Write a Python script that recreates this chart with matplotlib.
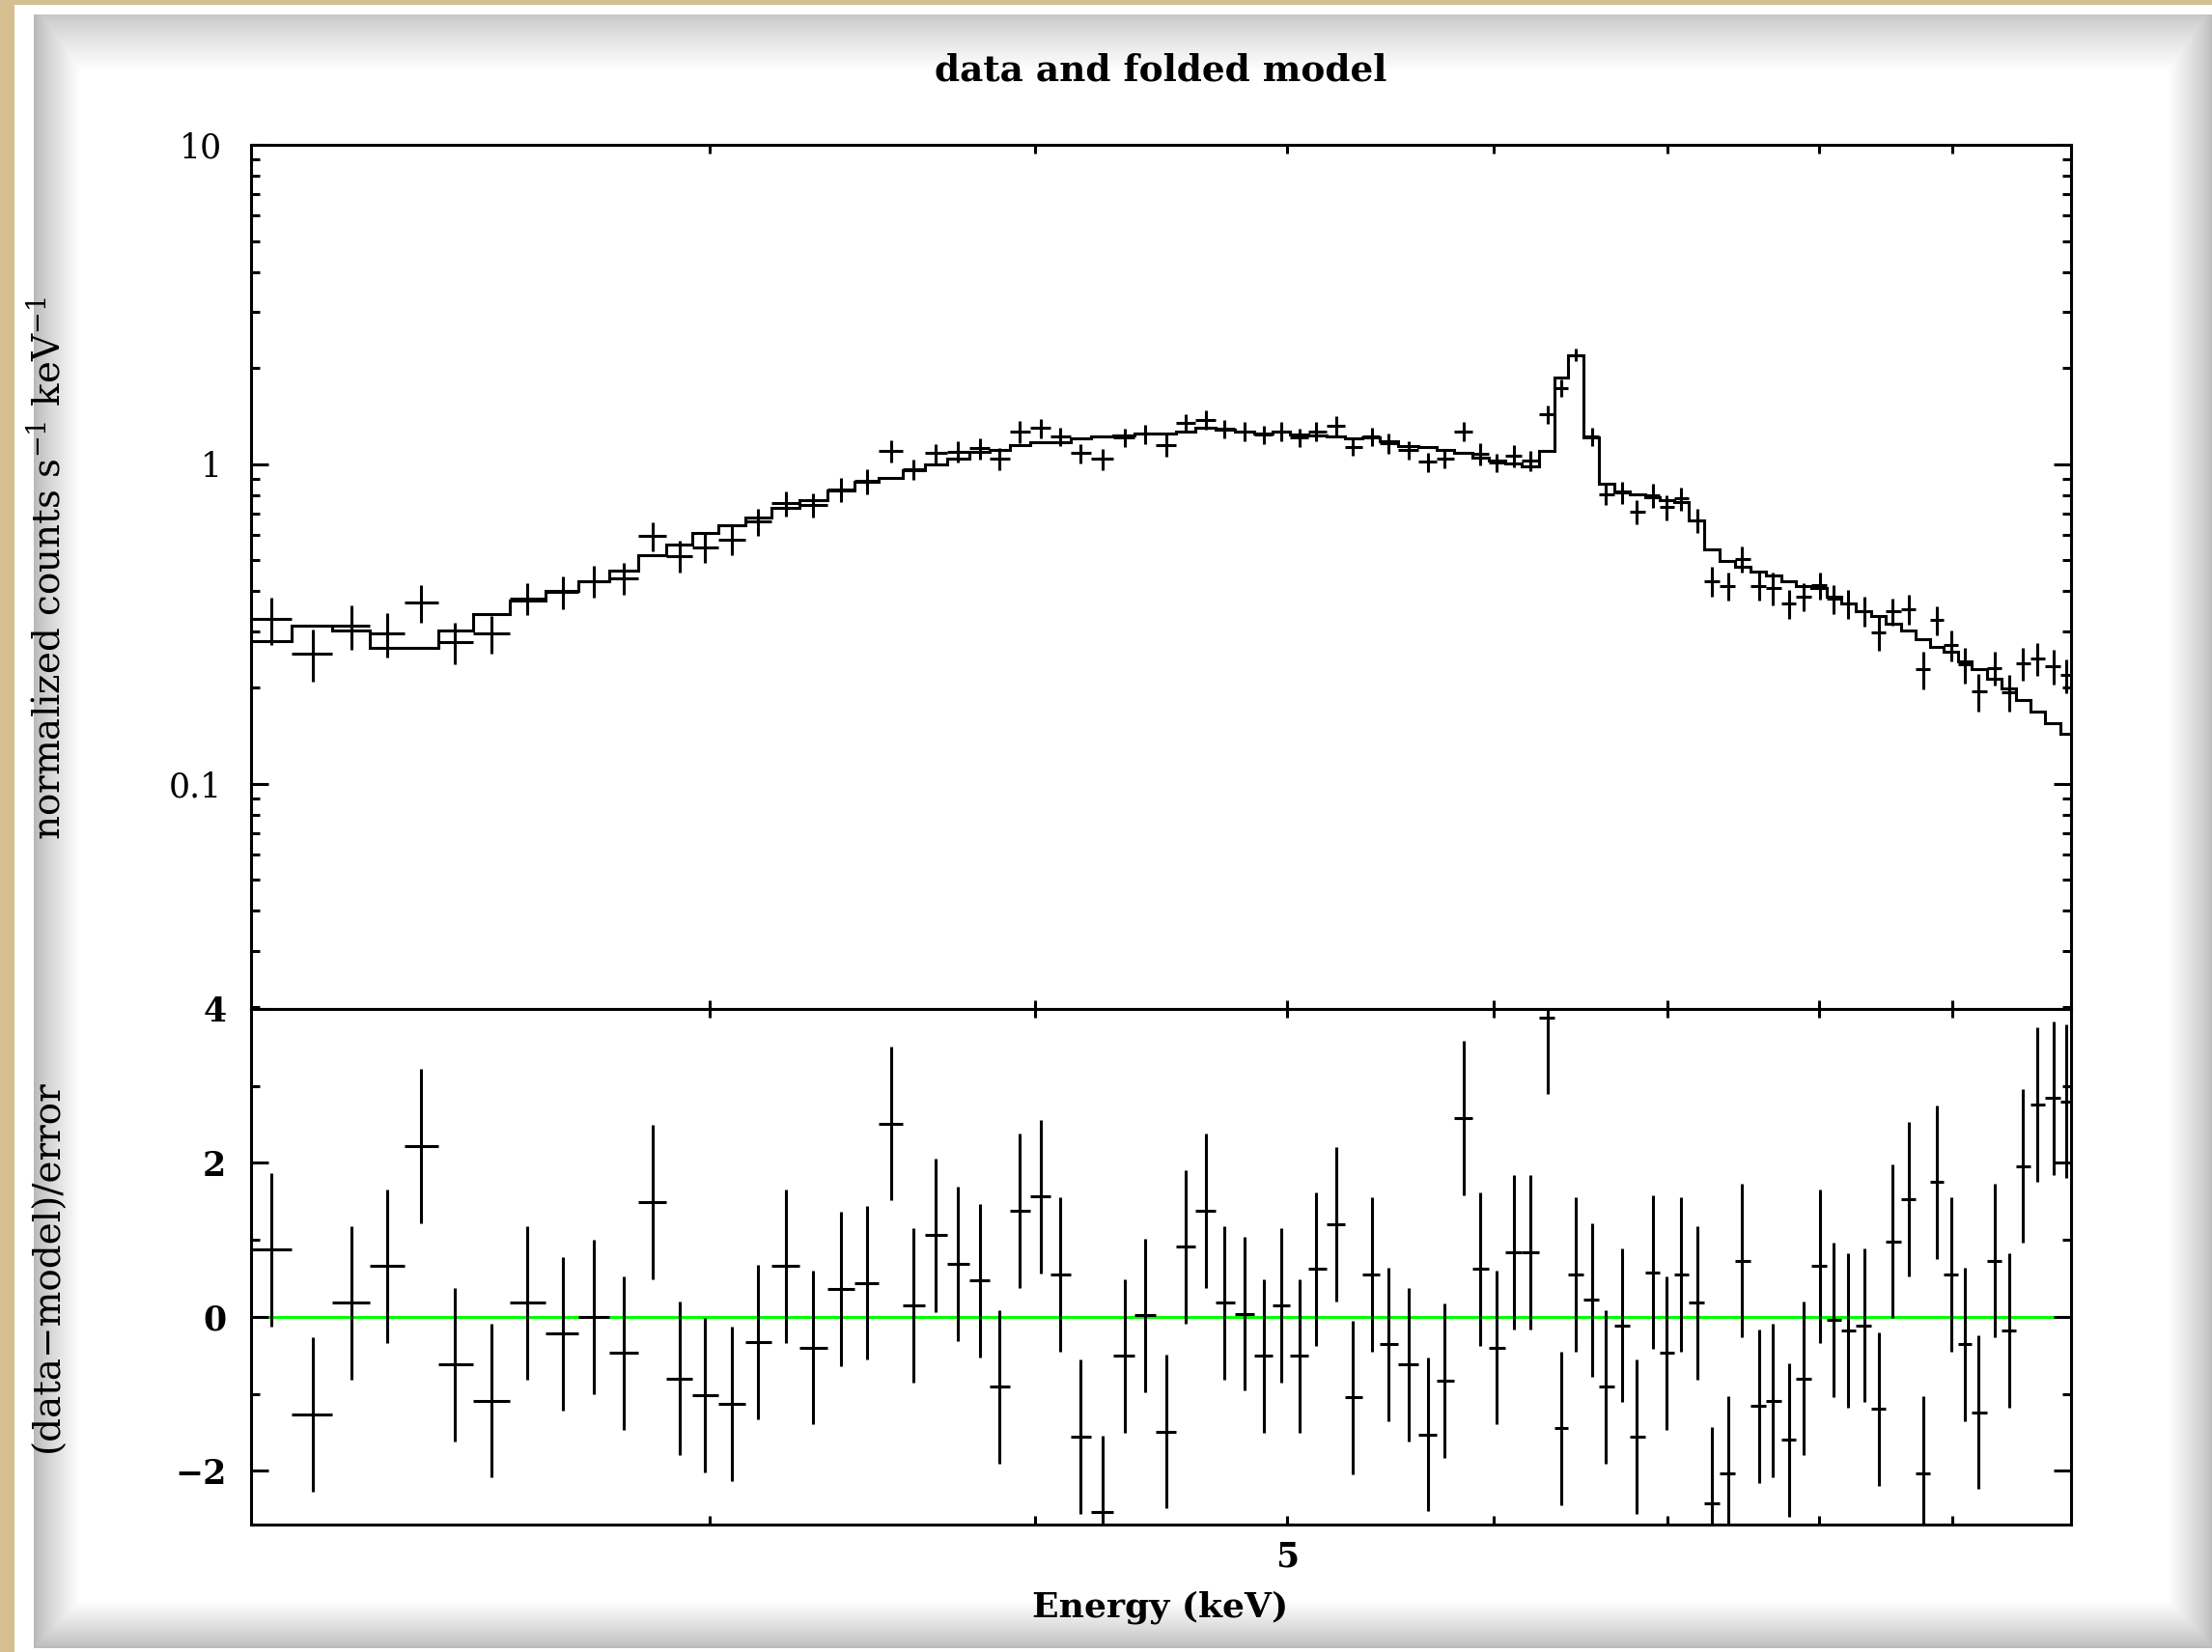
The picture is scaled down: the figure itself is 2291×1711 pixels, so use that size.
import numpy as np
import matplotlib
matplotlib.use("Agg")
import matplotlib.pyplot as plt
from matplotlib.ticker import FixedLocator, NullLocator, NullFormatter, LogLocator

# ---------------- data ----------------
energy_kev = [2.036, 2.112, 2.186, 2.256, 2.325, 2.395, 2.473, 2.554, 2.636, 2.709,
              2.781, 2.853, 2.922, 2.987, 3.061, 3.130, 3.209, 3.288, 3.371, 3.447,
              3.523, 3.593, 3.664, 3.737, 3.811, 3.877, 3.946, 4.022, 4.091, 4.164,
              4.247, 4.331, 4.408, 4.494, 4.569, 4.653, 4.731, 4.815, 4.898, 4.972,
              5.055, 5.131, 5.223, 5.299, 5.388, 5.469, 5.566, 5.662, 5.748, 5.844,
              5.932, 6.019, 6.110, 6.199, 6.293, 6.372, 6.452, 6.546, 6.628, 6.725,
              6.809, 6.912, 6.995, 7.082, 7.186, 7.276, 7.386, 7.474, 7.588, 7.682,
              7.795, 7.892, 8.007, 8.108, 8.209, 8.329, 8.437, 8.539, 8.664, 8.772,
              8.881, 8.993, 9.105, 9.214, 9.349, 9.466, 9.584, 9.704, 9.846, 9.959]

counts = [0.327, 0.256, 0.312, 0.295, 0.368, 0.278, 0.295, 0.380, 0.398, 0.431,
          0.440, 0.595, 0.517, 0.550, 0.581, 0.662, 0.756, 0.744, 0.831, 0.885,
          1.103, 0.964, 1.082, 1.095, 1.121, 1.040, 1.267, 1.297, 1.221, 1.082,
          1.038, 1.210, 1.244, 1.147, 1.343, 1.380, 1.291, 1.267, 1.238, 1.267,
          1.210, 1.267, 1.321, 1.134, 1.224, 1.163, 1.108, 1.017, 1.040, 1.267,
          1.077, 1.010, 1.062, 1.024, 1.430, 1.733, 2.200, 1.220, 0.806, 0.816,
          0.710, 0.797, 0.733, 0.782, 0.667, 0.431, 0.416, 0.506, 0.416, 0.409,
          0.366, 0.3855, 0.418, 0.3795, 0.366, 0.3475, 0.2974, 0.346, 0.352, 0.228,
          0.326, 0.271, 0.236, 0.1945, 0.2304, 0.1936, 0.2375, 0.247, 0.2331, 0.2185]

counts_err = [0.055, 0.048, 0.049, 0.046, 0.050, 0.041, 0.040, 0.044, 0.047, 0.050,
              0.051, 0.063, 0.060, 0.059, 0.061, 0.065, 0.068, 0.065, 0.072, 0.079,
              0.087, 0.073, 0.075, 0.084, 0.086, 0.081, 0.103, 0.090, 0.082, 0.073,
              0.082, 0.080, 0.087, 0.093, 0.090, 0.096, 0.087, 0.085, 0.082, 0.085,
              0.080, 0.085, 0.096, 0.072, 0.081, 0.085, 0.072, 0.071, 0.070, 0.085,
              0.085, 0.067, 0.082, 0.076, 0.095, 0.111, 0.102, 0.081, 0.061, 0.064,
              0.063, 0.069, 0.065, 0.065, 0.057, 0.045, 0.043, 0.048, 0.043, 0.048,
              0.039, 0.040, 0.040, 0.040, 0.038, 0.038, 0.037, 0.034, 0.037, 0.031,
              0.034, 0.030, 0.031, 0.026, 0.028, 0.026, 0.028, 0.029, 0.029, 0.027]

model = [0.279, 0.313, 0.301, 0.267, 0.267, 0.301, 0.340, 0.375, 0.402, 0.431,
         0.466, 0.519, 0.560, 0.608, 0.645, 0.682, 0.729, 0.770, 0.825, 0.880,
         0.905, 0.959, 1.000, 1.040, 1.090, 1.108, 1.149, 1.174, 1.174, 1.201,
         1.224, 1.229, 1.244, 1.244, 1.267, 1.297, 1.282, 1.267, 1.252, 1.261,
         1.238, 1.232, 1.224, 1.204, 1.210, 1.182, 1.142, 1.128, 1.108, 1.085,
         1.048, 1.024, 1.005, 0.982, 1.100, 1.866, 2.186, 1.215, 0.868, 0.821,
         0.806, 0.788, 0.770, 0.761, 0.667, 0.540, 0.499, 0.4785, 0.460, 0.448,
         0.431, 0.416, 0.409, 0.384, 0.366, 0.347, 0.334, 0.317, 0.302, 0.284,
         0.268, 0.259, 0.241, 0.228, 0.213, 0.198, 0.183, 0.1685, 0.155, 0.143]

residual = [0.87, -1.27, 0.18, 0.66, 2.22, -0.62, -1.09, 0.18, -0.22, 0.00,
            -0.47, 1.49, -0.80, -1.02, -1.13, -0.33, 0.66, -0.40, 0.36, 0.44,
            2.51, 0.15, 1.06, 0.69, 0.47, -0.91, 1.38, 1.56, 0.55, -1.56,
            -2.54, -0.51, 0.02, -1.49, 0.91, 1.38, 0.18, 0.04, -0.51, 0.15,
            -0.51, 0.62, 1.20, -1.05, 0.55, -0.36, -0.62, -1.53, -0.83, 2.58,
            0.62, -0.40, 0.84, 0.84, 3.89, -1.45, 0.55, 0.22, -0.91, -0.11,
            -1.56, 0.58, -0.47, 0.55, 0.18, -2.43, -2.03, 0.73, -1.16, -1.09,
            -1.60, -0.80, 0.66, -0.04, -0.18, -0.11, -1.20, 0.98, 1.53, -2.03,
            1.75, 0.55, -0.36, -1.24, 0.73, -0.18, 1.96, 2.76, 2.84, 2.80]

upper_yticks = [0.1, 1, 10]
upper_yticklabels = ["0.1", "1", "10"]
lower_yticks = [-2, 0, 2, 4]
lower_yticklabels = ["\u22122", "0", "2", "4"]
xticks = [3, 4, 5, 6, 7, 8, 9]
xticklabels = ["", "", "5", "", "", "", ""]

title = "data and folded model"
upper_ylabel = r"normalized counts s$^{-1}$ keV$^{-1}$"
lower_ylabel = "(data\u2212model)/error"
xlabel = "Energy (keV)"

# ---------------- derived bin edges ----------------
c = np.array(energy_kev)
mid = np.sqrt(c[:-1] * c[1:])
edges = np.concatenate([[c[0] ** 2 / mid[0]], mid, [c[-1] ** 2 / mid[-1]]])
xerr = np.vstack([c - edges[:-1], edges[1:] - c])

# ---------------- figure ----------------
W, H = 2291, 1711
DPI = 100
plt.rcParams["font.family"] = ["DejaVu Serif"]
plt.rcParams["mathtext.fontset"] = "dejavuserif"
fig = plt.figure(figsize=(W / DPI, H / DPI), dpi=DPI)

# paper-like background
yy, xx = np.mgrid[0:H, 0:W].astype(float)
def fade(d, width, dark):
    t = np.clip(d / width, 0, 1)
    t = t ** 0.8
    return dark + (1 - dark) * t
shade = np.minimum.reduce([
    fade(xx - 35, 48, 0.72),
    fade(yy - 15, 58, 0.78),
    fade((W - 1) - xx, 45, 0.74),
    fade(1707 - yy, 50, 0.72),
])
bg = np.repeat(shade[:, :, None], 3, axis=2)
bg[(xx >= 15) & (xx < 35)] = 1.0
bg[(yy >= 5) & (yy < 15) & (xx >= 15)] = 1.0
bg[yy >= 1707] = 1.0
tan = np.array([0.84, 0.75, 0.56])
bg[(xx < 15) | (yy < 5)] = tan
fig.figimage(bg, xo=0, yo=0, origin="upper", zorder=-10)

L, R = 260, 2145
T, MID, B = 150, 1045, 1579
ax1 = fig.add_axes([L / W, 1 - MID / H, (R - L) / W, (MID - T) / H])
ax2 = fig.add_axes([L / W, 1 - B / H, (R - L) / W, (B - MID) / H])

LW = 2.2
for ax in (ax1, ax2):
    ax.set_facecolor("white")
    ax.set_xscale("log")
    ax.set_xlim(2, 10)
    ax.xaxis.set_major_locator(FixedLocator(xticks))
    ax.xaxis.set_minor_locator(NullLocator())
    for sp in ax.spines.values():
        sp.set_linewidth(LW)
    ax.tick_params(axis="both", which="both", direction="in", top=True, right=True,
                   width=LW, colors="black")
    ax.tick_params(axis="x", which="major", length=6.8)
    ax.tick_params(axis="y", which="major", length=13)
    ax.tick_params(axis="y", which="minor", length=6.8)

# upper panel
ax1.set_yscale("log")
ax1.set_ylim(0.0197, 10)
ax1.stairs(model, edges, color="black", lw=LW, baseline=None)
ax1.errorbar(c, counts, xerr=xerr, yerr=counts_err, fmt="none", ecolor="black",
             elinewidth=LW, capsize=0)
ax1.yaxis.set_major_locator(FixedLocator(upper_yticks))
ax1.set_yticklabels(upper_yticklabels)
ax1.yaxis.set_minor_locator(LogLocator(base=10, subs=np.arange(2, 10)))
ax1.yaxis.set_minor_formatter(NullFormatter())
ax1.set_xticklabels([""] * len(xticks))
ax1.tick_params(axis="y", labelsize=25, pad=21.5)

# lower panel
ax2.set_ylim(-2.7, 4)
ax2.axhline(0, color="#00ff00", lw=LW, zorder=1)
ax2.errorbar(c, residual, xerr=xerr, yerr=np.ones(len(residual)), fmt="none",
             ecolor="black", elinewidth=LW, capsize=0, zorder=2)
ax2.yaxis.set_major_locator(FixedLocator(lower_yticks))
ax2.set_yticklabels(lower_yticklabels)
ax2.yaxis.set_minor_locator(FixedLocator([-1, 1, 3]))
ax2.set_xticklabels(xticklabels)
ax2.tick_params(axis="y", labelsize=25, pad=18.5)
ax2.tick_params(axis="x", labelsize=25, pad=12)
for lab in ax2.get_yticklabels() + ax2.get_xticklabels():
    lab.set_fontweight("bold")

# texts
fig.text(1202 / W, 1 - 83 / H, title, ha="center", va="baseline",
         fontsize=27, fontweight="bold")
fig.text(62 / W, 1 - 589 / H, upper_ylabel, rotation=90, rotation_mode="anchor",
         ha="center", va="baseline", fontsize=28)
fig.text(61 / W, 1 - 1311 / H, lower_ylabel, rotation=90, rotation_mode="anchor",
         ha="center", va="baseline", fontsize=28)
fig.text(1202 / W, 1 - 1675 / H, xlabel, ha="center", va="baseline",
         fontsize=26, fontweight="bold")

fig.savefig("out.png", dpi=DPI)
